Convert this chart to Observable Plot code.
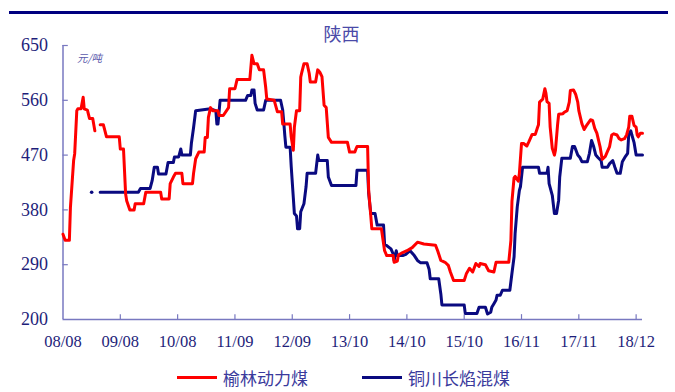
<!DOCTYPE html>
<html>
<head>
<meta charset="utf-8">
<script src="https://cdn.jsdelivr.net/npm/d3@7"></script>
<script src="https://cdn.jsdelivr.net/npm/@observablehq/plot@0.6"></script>
<style>
  html, body { margin: 0; padding: 0; background: #fff; }
  #wrap { position: relative; width: 675px; height: 392px; overflow: hidden; font-family: "Noto Sans CJK SC", sans-serif; }
  #rule { position: absolute; left: 9px; top: 11px; width: 659px; height: 3px; background: #000080; }
  #title { position: absolute; left: 0; width: 683px; top: 20px; text-align: center; font-size: 18px; color: #4a4aa8; }
  #unit { position: absolute; left: 77px; top: 50px; font-size: 10.5px; font-style: italic; color: #5a5aac; font-family: "Noto Sans CJK SC", serif; }
  .legend-item { position: absolute; top: 365px; display: flex; align-items: center; font-size: 17px; color: #3a3a9c; }
  .swatch { width: 40px; height: 3px; margin-right: 6px; }
  #chart { position: absolute; left: 0; top: 0; }
</style>
</head>
<body>
<div id="wrap">
  <div id="chart"></div>
  <div id="rule"></div>
  <div id="title">陕西</div>
  <div id="unit">元/吨</div>
</div>
<script>
// Weekly prices (元/吨), x = weeks since the first observation (Aug 2008)
const seriesNames = ["榆林动力煤", "铜川长焰混煤"];
const seriesColors = ["#ff0000", "#0a0a80"];

// 榆林动力煤: [week, price]; null marks a break in the record
const yulin = [
  [0,340],[2,330],[6,330],[7,384],[10,461],[11,472],[13,543],[14,546],[17,546],[19,565],[20,546],
  [23,544],[25,530],[28,530],[30,510],[32,null],
  [35,520],[38,520],[41,500],[53,500],[54,480],[57,480],[59,406],[60,395],[63,380],[67,380],[68,390],
  [76,390],[78,409],[92,409],[93,398],[100,398],[101,423],[104,434],[106,440],[112,440],[113,423],
  [122,423],[123,440],[125,464],[128,475],[133,475],[134,499],[136,499],[137,532],[139,548],[141,543],
  [146,543],[147,535],[151,535],[156,548],[157,579],[162,579],[164,594],[176,594],[178,634],[180,620],
  [183,620],[185,610],[189,610],[191,581],[192,562],[199,560],[202,541],[206,541],[207,521],[214,521],
  [215,500],[217,478],[218,516],[220,543],[223,543],[224,598],[225,606],[227,620],[230,620],[232,604],
  [233,590],[238,590],[240,610],[242,606],[244,599],[246,552],[248,548],[250,499],[253,491],[268,491],
  [270,475],[275,475],[276,480],[277,484],[287,484],[288,412],[291,349],[300,349],[303,313],[305,305],
  [311,305],[312,294],[315,296],[316,306],[320,310],[324,313],[329,318],[334,327],[340,324],[351,322],
  [353,313],[356,297],[360,294],[363,289],[365,278],[368,264],[378,264],[380,275],[383,284],[386,278],
  [389,292],[392,287],[393,292],[398,290],[401,280],[406,278],[408,294],[420,294],[422,330],[423,394],
  [425,433],[426,435],[429,427],[430,440],[432,489],[434,489],[437,485],[439,492],[442,504],[445,504],
  [447,515],[448,520],[449,557],[452,562],[454,579],[455,572],[456,558],[458,555],[459,516],[461,481],
  [463,470],[464,478],[466,520],[467,537],[471,538],[472,540],[475,543],[477,557],[478,576],[481,577],
  [483,570],[485,557],[486,543],[489,521],[491,512],[493,518],[497,528],[499,527],[501,514],[503,506],
  [506,484],[508,463],[511,468],[513,476],[515,484],[517,503],[519,505],[522,503],[524,497],[526,495],
  [529,497],[531,503],[533,516],[534,534],[536,534],[538,519],[540,516],[541,503],[542,500],[544,506],[546,506]
];

// 铜川长焰混煤: an isolated first reading, then the continuous record
const tongchuanFirst = [[27,409]];
const tongchuan = [
  [35,409],[71,409],[73,415],[82,415],[84,428],[86,450],[89,450],[90,439],[97,439],[99,458],[104,458],
  [105,467],[109,467],[111,480],[112,470],[120,470],[121,490],[123,515],[125,543],[139,546],[144,543],
  [145,521],[146,521],[148,560],[172,560],[174,568],[177,568],[178,577],[180,577],[181,555],[183,544],
  [189,544],[191,560],[205,560],[207,544],[208,524],[209,502],[210,483],[214,483],[215,452],[217,400],
  [218,374],[220,370],[221,349],[223,349],[224,377],[227,390],[229,418],[230,440],[238,440],[240,470],
  [241,461],[249,461],[250,434],[253,420],[276,420],[277,445],[287,445],[288,407],[290,374],[294,374],
  [296,355],[302,355],[303,324],[309,316],[311,308],[312,297],[314,313],[315,305],[320,305],[323,307],
  [327,313],[331,305],[334,297],[337,293],[343,293],[345,282],[346,267],[354,267],[356,242],[357,224],
  [378,224],[379,210],[390,210],[392,220],[398,220],[400,209],[403,212],[404,220],[406,226],[408,232],
  [409,240],[412,240],[414,248],[421,248],[423,276],[425,303],[426,342],[428,385],[430,412],[431,418],
  [433,450],[448,450],[449,440],[456,440],[457,450],[458,423],[461,404],[463,374],[465,374],[467,396],
  [468,434],[470,465],[478,465],[480,484],[482,484],[485,470],[487,466],[489,459],[494,459],[496,473],
  [498,494],[500,484],[502,470],[504,466],[507,461],[508,450],[513,450],[515,456],[518,461],[520,450],
  [522,440],[525,440],[527,459],[530,468],[532,473],[533,503],[535,510],[536,503],[538,491],[540,470],[546,470]
];

// Axis ticks: one every 54 weeks, labelled yy/mm
const xTickLabels = ["08/08","09/08","10/08","11/09","12/09","13/10","14/10","15/10","16/11","17/11","18/12"];
const xTicks = xTickLabels.map((_, i) => i * 54);
const yTicks = [200, 290, 380, 470, 560, 650];

const axisColor = "#7878c0";
const labelColor = "#1e1e7a";

const chart = Plot.plot({
  width: 675,
  height: 362,
  marginTop: 45,
  marginBottom: 43,
  marginLeft: 62.5,
  marginRight: 33,
  x: {domain: [0, 546]},
  y: {domain: [200, 650]},
  marks: [
    Plot.axisY(yTicks, {
      tickSize: 0, tickPadding: 15, label: null,
      fontSize: 18, fontFamily: "Liberation Serif", fill: labelColor
    }),
    Plot.axisX(xTicks, {
      tickSize: 0, tickPadding: 16, label: null,
      tickFormat: (d, i) => xTickLabels[i],
      fontSize: 16.5, fontFamily: "Liberation Serif", fill: labelColor
    }),
    // inward tick marks
    Plot.ruleY(yTicks.slice(1), {y: d => d, x1: 0, x2: 5, stroke: axisColor, strokeWidth: 1.2}),
    Plot.ruleX(xTicks.slice(1), {x: d => d, y1: 200, y2: 208, stroke: axisColor, strokeWidth: 1.2}),
    Plot.ruleX([0], {y1: 200, y2: 650, stroke: axisColor, strokeWidth: 1.5}),
    Plot.ruleY([200], {x1: 0, x2: 546, stroke: axisColor, strokeWidth: 1.5}),
    Plot.line(tongchuan, {x: d => d[0], y: d => d[1], stroke: seriesColors[1], strokeWidth: 3, strokeLinejoin: "round"}),
    Plot.dot(tongchuanFirst, {x: d => d[0], y: d => d[1], r: 1.8, fill: seriesColors[1], stroke: null}),
    Plot.line(yulin, {x: d => d[0], y: d => d[1], stroke: seriesColors[0], strokeWidth: 3, strokeLinejoin: "round"})
  ]
});
document.getElementById("chart").appendChild(chart);

// Legend below the plot
const wrap = document.getElementById("wrap");
const legendLeft = [177, 362];
seriesNames.forEach((name, i) => {
  const item = document.createElement("div");
  item.className = "legend-item";
  item.style.left = legendLeft[i] + "px";
  const sw = document.createElement("span");
  sw.className = "swatch";
  sw.style.background = seriesColors[i];
  const tx = document.createElement("span");
  tx.textContent = name;
  item.appendChild(sw);
  item.appendChild(tx);
  wrap.appendChild(item);
});
</script>
</body>
</html>
